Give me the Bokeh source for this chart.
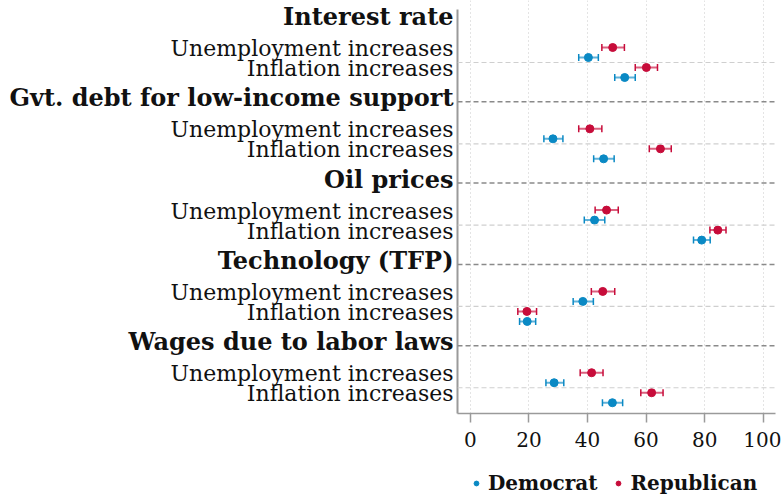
from bokeh.plotting import figure
from bokeh.layouts import row, column
from bokeh.models import (Range1d, FixedTicker, Span, Whisker, ColumnDataSource,
                          TeeHead, Legend, LegendItem)
from bokeh.core.properties import value
from bokeh.embed import file_html
from bokeh.resources import INLINE

# ---------------- data ----------------
groups = ["Interest rate", "Gvt. debt for low-income support", "Oil prices",
          "Technology (TFP)", "Wages due to labor laws"]
rows = ["Unemployment increases", "Inflation increases"]
parties = ["Democrat", "Republican"]

# order: group0-unemp, group0-infl, group1-unemp, ...
dem_est = [40.3, 52.7, 28.2, 45.5, 42.4, 79.0, 38.4, 19.4, 28.6, 48.5]
dem_lo  = [37.0, 49.3, 25.1, 42.1, 38.9, 76.2, 35.1, 16.8, 25.8, 45.1]
dem_hi  = [43.7, 56.3, 31.6, 49.1, 45.9, 81.9, 42.0, 22.3, 31.9, 52.0]

rep_est = [48.6, 60.1, 40.8, 64.9, 46.5, 84.5, 45.2, 19.3, 41.4, 61.9]
rep_lo  = [44.9, 56.3, 37.0, 61.1, 42.6, 81.8, 41.3, 16.2, 37.5, 58.2]
rep_hi  = [52.6, 63.9, 44.9, 68.6, 50.5, 87.3, 49.3, 22.6, 45.3, 65.8]

x_ticks = [0, 20, 40, 60, 80, 100]

# ---------------- layout constants ----------------
ROW_OFF = [0.394, 0.640]     # row positions inside a group (group spacing = 1)
SEP_OFF = 0.517              # light separator between the two rows
DOT_OFF = 0.0615             # vertical offset of the two parties
XMIN, XMAX = -4.4, 104.2
AXIS_TOP, YBOT = -0.135, 4.834       # extent of the drawn y-axis line
FRAME_BOT = 413                      # pixel row of the x axis
AXIS_TOP_PX = 9                      # pixel row where the y-axis line starts
TOP_H = 468

DEM_COLOR = "#0a89c4"
REP_COLOR = "#c70c3a"
FONT = "DejaVu Serif"

row_y = [g + ROW_OFF[r] for g in range(len(groups)) for r in range(len(rows))]
dem_y = [y + DOT_OFF for y in row_y]
rep_y = [y - DOT_OFF for y in row_y]
group_y = list(range(len(groups)))
sep_y = [g + SEP_OFF for g in range(len(groups))]

px_per_unit = (FRAME_BOT - AXIS_TOP_PX) / (YBOT - AXIS_TOP)
YTOP = AXIS_TOP - AXIS_TOP_PX / px_per_unit   # frame reaches the top of the canvas
yr = Range1d(YBOT, YTOP)

# ---------------- label panel ----------------
lab = figure(width=455, height=TOP_H, x_range=Range1d(0, 1), y_range=yr,
             output_backend="svg", toolbar_location=None,
             min_border_left=0, min_border_right=0, min_border_top=0,
             min_border_bottom=TOP_H - FRAME_BOT)
lab.axis.visible = False
lab.grid.grid_line_color = None
lab.outline_line_color = None
lab.text(x=[1] * len(groups), y=group_y, text=groups, x_offset=-2, y_offset=-4,
         text_align="right", text_baseline="middle", text_font=value(FONT),
         text_font_style="bold", text_font_size="24px", text_color="#111111")
lab.text(x=[1] * len(row_y), y=row_y, text=rows * len(groups), x_offset=-2, y_offset=-4,
         text_align="right", text_baseline="middle", text_font=value(FONT),
         text_font_size="22px", text_color="#111111")

# ---------------- main panel ----------------
p = figure(width=326, height=TOP_H, x_range=Range1d(XMIN, XMAX), y_range=yr,
           output_backend="svg", toolbar_location=None,
           min_border_left=2, min_border_right=6, min_border_top=0,
           min_border_bottom=TOP_H - FRAME_BOT)
p.outline_line_color = None

p.ygrid.grid_line_color = None
p.xgrid.ticker = FixedTicker(ticks=x_ticks)
p.xgrid.grid_line_color = "#c8c8c8"
p.xgrid.grid_line_dash = "1 3"
p.xgrid.grid_line_width = 1

p.xaxis.ticker = FixedTicker(ticks=x_ticks)
p.xaxis.axis_line_color = "#9a9a9a"
p.xaxis.axis_line_width = 1.5
p.xaxis.major_tick_line_color = "#9a9a9a"
p.xaxis.major_tick_line_width = 1.5
p.xaxis.major_tick_out = 9
p.xaxis.major_tick_in = 0
p.xaxis.minor_tick_line_color = None
p.xaxis.major_label_text_font = FONT
p.xaxis.major_label_text_font_size = "20px"
p.xaxis.major_label_text_color = "#111111"
p.xaxis.major_label_standoff = 9

p.yaxis.ticker = FixedTicker(ticks=[])
p.yaxis.bounds = (YBOT, AXIS_TOP)
p.yaxis.axis_line_color = "#9a9a9a"
p.yaxis.axis_line_width = 2
p.yaxis.major_tick_out = 0
p.yaxis.major_tick_in = 0
p.yaxis.major_label_standoff = 0
p.yaxis.minor_tick_line_color = None

for g in group_y[1:]:
    p.add_layout(Span(location=g, dimension="width", line_color="#8a8a8a",
                      line_dash="5 3", line_width=1.5))
for y in sep_y:
    p.add_layout(Span(location=y, dimension="width", line_color="#cfcfcf",
                      line_dash="5 3", line_width=1.2))

dem_src = ColumnDataSource(dict(y=dem_y, est=dem_est, lo=dem_lo, hi=dem_hi))
rep_src = ColumnDataSource(dict(y=rep_y, est=rep_est, lo=rep_lo, hi=rep_hi))

for src, col in ((dem_src, DEM_COLOR), (rep_src, REP_COLOR)):
    p.add_layout(Whisker(source=src, base="y", lower="lo", upper="hi", dimension="width",
                         line_color=col, line_width=2, line_alpha=0.65,
                         lower_head=TeeHead(size=7, line_color=col, line_width=1.5),
                         upper_head=TeeHead(size=7, line_color=col, line_width=1.5)))

p.scatter("est", "y", source=dem_src, size=8, color=DEM_COLOR)
p.scatter("est", "y", source=rep_src, size=8, color=REP_COLOR)

# ---------------- legend panel ----------------
# the legend renderers use the same data; their points fall outside this panel's view
leg = figure(width=781, height=496 - TOP_H, x_range=Range1d(-2, -1), y_range=Range1d(-2, -1),
             output_backend="svg", toolbar_location=None,
             min_border_left=0, min_border_right=0, min_border_top=0, min_border_bottom=0)
leg.axis.visible = False
leg.grid.grid_line_color = None
leg.outline_line_color = None
l_dem = leg.scatter("est", "y", source=dem_src, size=8, color=DEM_COLOR)
l_rep = leg.scatter("est", "y", source=rep_src, size=8, color=REP_COLOR)
legend = Legend(items=[LegendItem(label=parties[0], renderers=[l_dem], index=0),
                       LegendItem(label=parties[1], renderers=[l_rep], index=0)],
                orientation="horizontal", location=(470, 1),
                border_line_color=None, background_fill_alpha=0,
                label_text_font=FONT, label_text_font_style="bold",
                label_text_font_size="20px", label_text_color="#111111",
                glyph_width=12, glyph_height=12, label_standoff=6, spacing=15,
                margin=0, padding=0)
leg.add_layout(legend)

layout = column(row(lab, p, spacing=0), leg, spacing=0)
open("out.html", "w").write(file_html(layout, INLINE))
